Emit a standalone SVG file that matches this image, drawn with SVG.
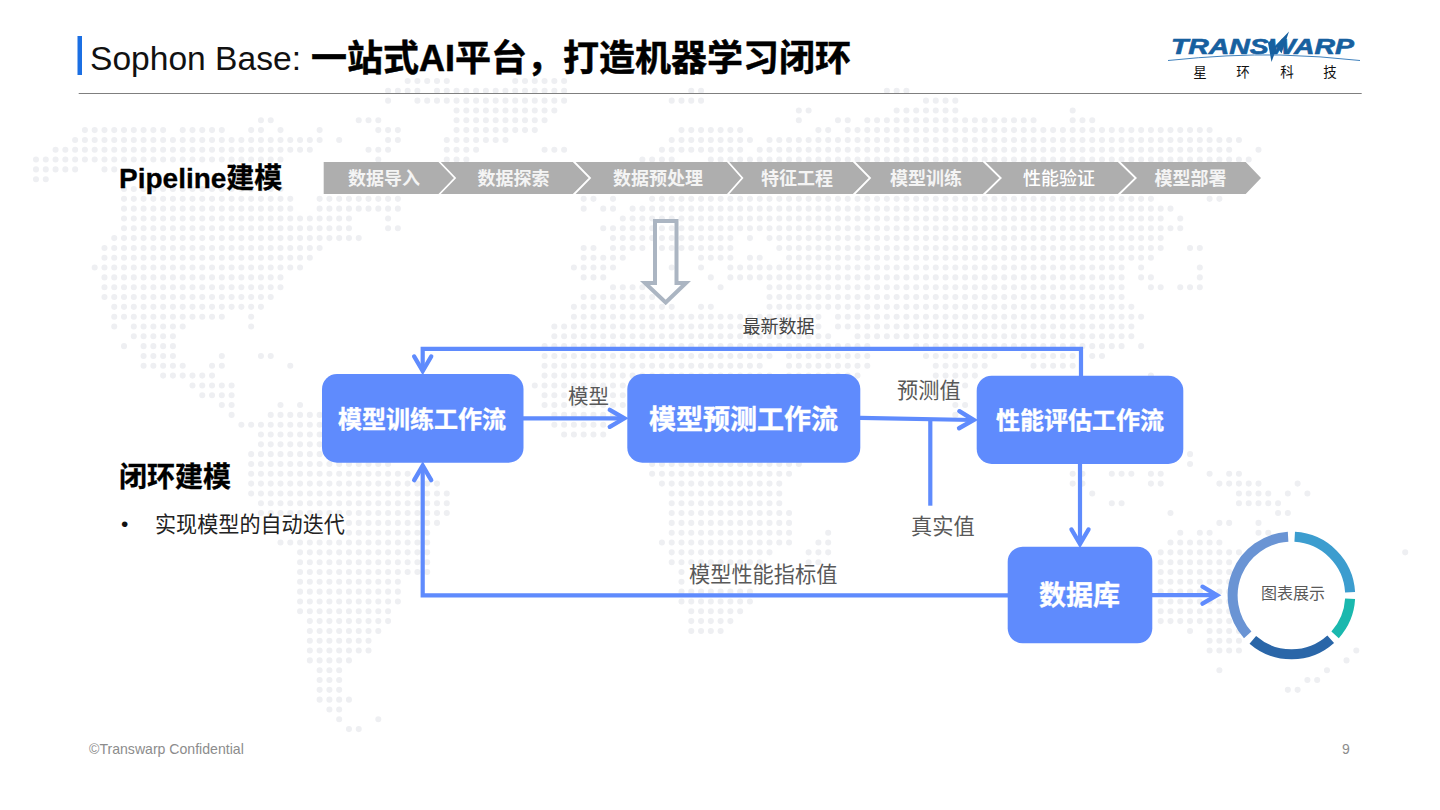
<svg xmlns="http://www.w3.org/2000/svg" width="1440" height="810" viewBox="0 0 1440 810">
<style>
text{font-family:"Liberation Sans","Noto Sans CJK SC",sans-serif}
.cjk{font-family:"Noto Sans CJK SC","Liberation Sans",sans-serif}
.box{fill:#5f8bfd}
.boxt{fill:#fff;stroke:#fff;stroke-width:.35;font-weight:700;text-anchor:middle;font-family:"Noto Sans CJK SC",sans-serif}
.step{fill:#aeaeae}
.stept{fill:#f4f4f4;font-size:18px;font-weight:700;text-anchor:middle;font-family:"Noto Sans CJK SC",sans-serif}
.sep{fill:none;stroke:#fff;stroke-width:1.8}
.conn{fill:none;stroke:#5f8bfd;stroke-width:4.2}
.lab{fill:#595959;font-size:21.2px;font-family:"Noto Sans CJK SC",sans-serif}
.seg{fill:none;stroke-width:10}
.foot{fill:#8c8c8c;font-size:14px}
.h2{fill:#000;stroke:#000;stroke-width:.3;font-size:28px;font-weight:700}
</style>
<defs>
<marker id="open" viewBox="-18 -12 24 24" markerWidth="24" markerHeight="24" refX="0" refY="0" orient="auto" markerUnits="userSpaceOnUse">
<path d="M-13.5 -8.5L1 0L-13.5 8.5" fill="none" stroke="#5f8bfd" stroke-width="4.4" stroke-linecap="round"/>
</marker>
</defs>
<rect width="1440" height="810" fill="#fff"/>
<path id="world-map" transform="translate(36 81) scale(9.78 9.82)" fill="none" stroke="#eeeff2" stroke-width=".62" stroke-linecap="round" stroke-dasharray=".001 .999" d="
M38 0H42.01M49 0H54.01
M36 1H39.01M41 1H54.01M67 1H68.01M87 1H89.01
M36 2H36.01M39 2H54.01M65 2H68.01M91 2H94.01
M43 3H53.01M78 3H79.01M88 3H94.01M106 3H106.01
M23 4H24.01M33 4H35.01M43 4H52.01M78 4H78.01M82 4H83.01M85 4H102.01M106 4H108.01
M5 5H13.01M15 5H19.01M22 5H23.01M25 5H25.01M29 5H29.01M35 5H37.01M43 5H51.01M66 5H72.01M80 5H81.01M83 5H120.01
M4 6H29.01M31 6H31.01M36 6H37.01M42 6H48.01M65 6H73.01M75 6H123.01
M2 7H28.01M34 7H36.01M42 7H45.01M52 7H54.01M64 7H72.01M74 7H122.01M125 7H125.01
M0 8H25.01M35 8H35.01M42 8H44.01M62 8H65.01M69 8H124.01
M0 9H4.01M7 9H8.01
M0 10H1.01
M9 11H25.01
M9 12H26.01M29 12H37.01M56 12H57.01M59 12H59.01M63 12H114.01M120 12H121.01
M9 13H26.01M29 13H37.01M56 13H56.01M58 13H59.01M61 13H116.01
M9 14H32.01M36 14H36.01M60 14H115.01M117 14H117.01
M9 15H32.01M36 15H37.01M58 15H117.01
M8 16H33.01M59 16H71.01M73 16H73.01M75 16H115.01
M7 17H29.01M56 17H57.01M59 17H62.01M64 17H71.01M76 17H115.01M118 17H119.01
M7 18H28.01M56 18H60.01M68 18H71.01M73 18H74.01M77 18H114.01
M6 19H27.01M55 19H59.01M65 19H65.01M68 19H68.01M71 19H111.01M113 19H113.01M119 19H119.01
M7 20H25.01M56 20H58.01M69 20H69.01M71 20H111.01M113 20H114.01M119 20H119.01
M7 21H25.01M59 21H62.01M70 21H70.01M75 21H111.01M114 21H115.01M117 21H119.01
M7 22H24.01M56 22H63.01M75 22H111.01
M8 23H23.01M55 23H65.01M68 23H69.01M75 23H112.01
M8 24H19.01M22 24H22.01M55 24H80.01M82 24H113.01
M8 25H8.01M10 25H15.01M22 25H22.01M53 25H80.01M82 25H112.01
M10 26H14.01M53 26H81.01M84 26H112.01
M9 27H9.01M11 27H14.01M52 27H85.01M90 27H111.01M113 27H113.01
M11 28H14.01M19 28H19.01M23 28H24.01M52 28H75.01M77 28H85.01M91 28H98.01M101 28H106.01M108 28H109.01
M11 29H15.01M18 29H19.01M26 29H26.01M52 29H74.01M77 29H85.01M92 29H97.01M102 29H106.01
M13 30H18.01M52 30H75.01M77 30H84.01M92 30H96.01M114 30H114.01
M16 31H20.01M51 31H60.01M92 31H95.01
M17 32H20.01M52 32H60.01M92 32H94.01
M19 33H20.01M25 33H25.01M27 33H27.01M52 33H60.01M94 33H95.01
M20 34H20.01M24 34H29.01M53 34H59.01M94 34H94.01
M21 35H29.01M53 35H58.01
M23 36H29.01M54 36H58.01
M23 37H29.01
M22 38H29.01M118 38H118.01
M22 39H36.01M63 39H78.01M118 39H118.01
M22 40H38.01M63 40H77.01M106 40H107.01M110 40H112.01M114 40H115.01M120 40H120.01M122 40H123.01
M22 41H41.01M64 41H76.01M106 41H107.01M114 41H115.01M121 41H125.01M129 41H129.01
M22 42H42.01M65 42H76.01M108 42H108.01M123 42H126.01M128 42H128.01M130 42H130.01
M23 43H42.01M65 43H76.01M110 43H111.01M123 43H127.01
M23 44H42.01M65 44H77.01M116 44H116.01M127 44H128.01
M32 45H41.01M65 45H77.01M121 45H122.01M125 45H125.01
M32 46H40.01M65 46H77.01M81 46H81.01M117 46H117.01M119 46H120.01M125 46H126.01
M25 47H40.01M64 47H77.01M80 47H81.01M116 47H121.01
M27 48H40.01M65 48H75.01M79 48H81.01M115 48H123.01M140 48H140.01
M27 49H40.01M65 49H74.01M79 49H80.01M115 49H122.01
M27 50H40.01M66 50H66.01M115 50H123.01
M27 51H37.01M66 51H66.01M115 51H123.01
M27 52H37.01M66 52H73.01M115 52H122.01
M27 53H37.01M66 53H73.01M115 53H122.01
M27 54H36.01M67 54H72.01M115 54H122.01
M28 55H36.01M67 55H71.01M115 55H122.01
M28 56H35.01M67 56H70.01M118 56H118.01M120 56H123.01
M28 57H34.01M120 57H123.01
M28 58H34.01M120 58H123.01M135 58H135.01
M28 59H32.01M134 59H134.01
M29 60H31.01M121 60H121.01M132 60H132.01
M29 61H31.01M130 61H131.01
M29 62H31.01M128 62H129.01
M29 63H32.01
M30 64H31.01
M31 65H31.01M35 65H35.01
M32 66H33.01"/>

<g id="header">
<rect x="77.5" y="36" width="4.5" height="39" fill="#1b6fe3"/>
<text x="90" y="70" font-size="33.6" fill="#111">Sophon Base:</text>
<text x="311" y="71" font-size="36" font-weight="700" fill="#000" stroke="#000" stroke-width=".5">一站式AI平台，打造机器学习闭环</text>
<line x1="78.7" y1="93.5" x2="1361.7" y2="93.5" stroke="#7f7f7f" stroke-width="1"/>
</g>
<g id="logo">
<text x="1171" y="53.5" font-size="22" font-weight="700" font-style="italic" fill="#17609f" stroke="#17609f" stroke-width=".6" textLength="183" lengthAdjust="spacingAndGlyphs">TRANSWARP</text>
<polygon points="1289,31.5 1281.5,53.5 1277,47 1271.5,62 1268,43 1272,39 1274,47" fill="#17609f"/>
<path d="M1168 60.5Q1230 54 1280 55Q1320 56 1360 60.5" fill="none" stroke="#2a73b4" stroke-width=".9"/>
<g class="cjk" font-size="13.5" fill="#111" text-anchor="middle">
<text class="cjk" x="1200" y="77">星</text><text class="cjk" x="1243" y="77">环</text><text class="cjk" x="1287" y="77">科</text><text class="cjk" x="1330" y="77">技</text>
</g>
</g>

<text id="title-pipeline" class="h2" x="119" y="188">Pipeline建模</text>
<g id="pipeline">
<g id="step1"><polygon class="step" points="323.7,162 438.7,162 455,178 438.7,194 323.7,194"/><text class="stept" x="384" y="184.5">数据导入</text></g>
<g id="step2"><polygon class="step" points="438.7,162 573.3,162 590,178 573.3,194 438.7,194 455,178"/><text class="stept" x="513.5" y="184.5">数据探索</text></g>
<g id="step3"><polygon class="step" points="573.3,162 727.3,162 742.3,178 727.3,194 573.3,194 590,178"/><text class="stept" x="658" y="184.5">数据预处理</text></g>
<g id="step4"><polygon class="step" points="727.3,162 853.3,162 870,178 853.3,194 727.3,194 742.3,178"/><text class="stept" x="797" y="184.5">特征工程</text></g>
<g id="step5"><polygon class="step" points="853.3,162 983.3,162 1000.7,178 983.3,194 853.3,194 870,178"/><text class="stept" x="926" y="184.5">模型训练</text></g>
<g id="step6"><polygon class="step" points="983.3,162 1118.3,162 1135.7,178 1118.3,194 983.3,194 1000.7,178"/><text class="stept" x="1059" y="184.5" style="font-weight:500;fill:#fff">性能验证</text></g>
<g id="step7"><polygon class="step" points="1118.3,162 1245.7,162 1261,178 1245.7,194 1118.3,194 1135.7,178"/><text class="stept" x="1190.5" y="184.5">模型部署</text></g>
<path class="sep" d="M438.7 161L455 178L438.7 195M573.3 161L590 178L573.3 195M727.3 161L742.3 178L727.3 195M853.3 161L870 178L853.3 195M983.3 161L1000.7 178L983.3 195M1118.3 161L1135.7 178L1118.3 195"/>
</g>
<polygon id="down-arrow" points="655,221 676.5,221 676.5,283 686,283 665.7,302.5 645,283 655,283" fill="none" stroke="#abb5c2" stroke-width="4"/>

<g id="connectors">
<path class="conn" d="M1081 376V348.8H422.7V370" marker-end="url(#open)"/>
<path class="conn" d="M523 418.3H623.3" marker-end="url(#open)"/>
<path class="conn" d="M860 417.8L972.7 420" marker-end="url(#open)"/>
<path class="conn" d="M930.3 419V505.7"/>
<path class="conn" d="M1080 464V543" marker-end="url(#open)"/>
<path class="conn" d="M1008 595.3H422.7V466.7" marker-end="url(#open)"/>
<path class="conn" d="M1152 595.2H1216" marker-end="url(#open)"/>
</g>

<g id="train"><rect class="box" x="322" y="374" width="201.5" height="88.7" rx="15"/><text class="boxt" x="422" y="427.5" font-size="24">模型训练工作流</text></g>
<g id="predict"><rect class="box" x="627.3" y="374" width="233" height="88.7" rx="15"/><text class="boxt" x="743.5" y="428.5" font-size="27">模型预测工作流</text></g>
<g id="evaluate"><rect class="box" x="976.7" y="375.7" width="206.6" height="88.3" rx="15"/><text class="boxt" x="1080" y="428.5" font-size="24">性能评估工作流</text></g>
<g id="database"><rect class="box" x="1007.7" y="546.7" width="144.6" height="96.6" rx="15"/><text class="boxt" x="1079.5" y="605" font-size="27">数据库</text></g>

<g id="chart">
<circle cx="1291.4" cy="595.5" r="54" fill="#fff"/>
<path class="seg" stroke="#3c9dcf" d="M1294.7 536.8A58.8 58.8 0 0 1 1350.1 592.2"/>
<path class="seg" stroke="#1ab8ae" d="M1350.1 598.8A58.8 58.8 0 0 1 1335.1 634.8"/>
<path class="seg" stroke="#2a66a8" d="M1330.7 639.2A58.8 58.8 0 0 1 1252.8 639.9"/>
<path class="seg" stroke="#6a94d4" d="M1247.7 634.8A58.8 58.8 0 0 1 1288.1 536.8"/>
<text class="cjk" x="1293" y="599" font-size="16" fill="#595959" text-anchor="middle">图表展示</text>
</g>

<g id="labels">
<text class="cjk" x="778.5" y="332.5" font-size="18" fill="#444" text-anchor="middle">最新数据</text>
<text class="lab" x="568" y="403.5" style="font-size:20.5px">模型</text>
<text class="lab" x="897" y="397.5">预测值</text>
<text class="lab" x="911" y="534">真实值</text>
<text class="lab" x="689" y="581.5">模型性能指标值</text>
</g>

<g id="closed-loop">
<text class="h2" x="119" y="487">闭环建模</text>
<text x="121" y="531" font-size="21" fill="#111">•</text>
<text class="cjk" x="155" y="531.5" font-size="21.1" fill="#222">实现模型的自动迭代</text>
</g>

<g id="footer">
<text class="foot" x="89" y="754" style="font-size:14.1px">©Transwarp Confidential</text>
<text class="foot" x="1342" y="754">9</text>
</g>
</svg>
